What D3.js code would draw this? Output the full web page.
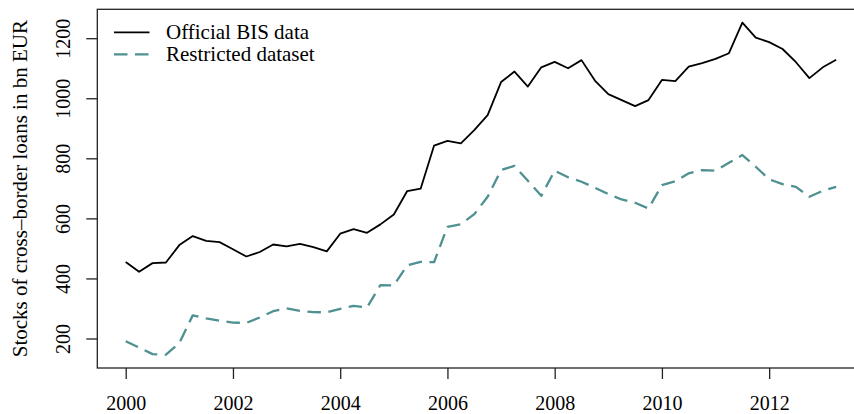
<!DOCTYPE html>
<html>
<head>
<meta charset="utf-8">
<script src="https://cdn.jsdelivr.net/npm/d3@7"></script>
<style>
  html, body { margin: 0; padding: 0; background: #fff; overflow: hidden; }
  svg { display: block; }
  text { font-family: "Liberation Serif", "Times New Roman", serif; fill: #000; }
</style>
</head>
<body>
<svg id="chart"></svg>
<script>
// quarterly observations, 2000Q1 .. 2013Q2
const quarters = [
  '2000Q1','2000Q2','2000Q3','2000Q4','2001Q1','2001Q2','2001Q3','2001Q4',
  '2002Q1','2002Q2','2002Q3','2002Q4','2003Q1','2003Q2','2003Q3','2003Q4',
  '2004Q1','2004Q2','2004Q3','2004Q4','2005Q1','2005Q2','2005Q3','2005Q4',
  '2006Q1','2006Q2','2006Q3','2006Q4','2007Q1','2007Q2','2007Q3','2007Q4',
  '2008Q1','2008Q2','2008Q3','2008Q4','2009Q1','2009Q2','2009Q3','2009Q4',
  '2010Q1','2010Q2','2010Q3','2010Q4','2011Q1','2011Q2','2011Q3','2011Q4',
  '2012Q1','2012Q2','2012Q3','2012Q4','2013Q1','2013Q2'
];

const officialBIS = [
  455, 422, 451, 453, 511, 541, 525, 521, 497, 473, 488, 513, 507, 515,
  504, 490, 549, 564, 552, 580, 613, 691, 699, 842, 858, 850, 894, 944,
  1054, 1089, 1039, 1103, 1121, 1100, 1127, 1059, 1014, 994, 974, 994,
  1061, 1057, 1105, 1117, 1131, 1150, 1252, 1202, 1187, 1164, 1120, 1067,
  1103, 1128
];

const restricted = [
  191, 170, 148, 146, 185, 277, 267, 259, 253, 252, 270, 291, 300, 292,
  288, 287, 299, 309, 303, 378, 377, 444, 455, 454, 572, 580, 614, 672,
  761, 775, 725, 675, 759, 737, 722, 702, 681, 663, 652, 633, 711, 724,
  750, 761, 759, 785, 811, 772, 730, 714, 705, 672, 692, 705
];

const xTicks = [2000, 2002, 2004, 2006, 2008, 2010, 2012];
const yTicks = [200, 400, 600, 800, 1000, 1200];
const seriesNames = ['Official BIS data', 'Restricted dataset'];

const width = 854, height = 414;
const teal = '#4f9090';

// quarter label -> decimal year
const toYear = q => +q.slice(0, 4) + (+q.slice(5) - 1) / 4;
const years = quarters.map(toYear);

// R-style 4% padding around data range; right edge falls outside the crop
const xPad = (d3.max(years) - d3.min(years)) * 0.04;
const allVals = officialBIS.concat(restricted);
const yPad = (d3.max(allVals) - d3.min(allVals)) * 0.04;

const plot = { left: 97.3, top: 9.3, bottom: 368, right: 864.6 };

const x = d3.scaleLinear()
  .domain([d3.min(years) - xPad, d3.max(years) + xPad])
  .range([plot.left, plot.right]);

const y = d3.scaleLinear()
  .domain([d3.min(allVals) - yPad, d3.max(allVals) + yPad])
  .range([plot.bottom, plot.top]);

const svg = d3.select('#chart')
  .attr('width', width)
  .attr('height', height)
  .attr('viewBox', `0 0 ${width} ${height}`);

// plot box
svg.append('rect')
  .attr('x', plot.left).attr('y', plot.top)
  .attr('width', plot.right - plot.left)
  .attr('height', plot.bottom - plot.top)
  .attr('fill', 'none')
  .attr('stroke', '#222')
  .attr('stroke-width', 1.3);

// x axis
const xAxis = svg.append('g')
  .attr('transform', `translate(0, ${plot.bottom})`)
  .call(d3.axisBottom(x).tickValues(xTicks).tickFormat(d3.format('d')).tickSize(11).tickPadding(17));
xAxis.select('.domain').remove();
xAxis.selectAll('line').attr('stroke', '#222').attr('stroke-width', 1.3);
xAxis.selectAll('text')
  .attr('font-size', '20px')
  .attr('font-family', '"Liberation Serif", serif')
  .attr('fill', '#000');

// y axis, labels rotated like R's default las=0
const yAxis = svg.append('g')
  .attr('transform', `translate(${plot.left}, 0)`)
  .call(d3.axisLeft(y).tickValues(yTicks).tickSize(11).tickFormat(d3.format('d')));
yAxis.select('.domain').remove();
yAxis.selectAll('line').attr('stroke', '#222').attr('stroke-width', 1.3);
yAxis.selectAll('text')
  .attr('x', null).attr('dy', null)
  .attr('text-anchor', 'middle')
  .attr('transform', 'translate(-27, 0) rotate(-90)')
  .attr('font-size', '20px')
  .attr('font-family', '"Liberation Serif", serif')
  .attr('fill', '#000');

// y axis title
svg.append('text')
  .attr('transform', `translate(27, ${(plot.top + plot.bottom) / 2}) rotate(-90)`)
  .attr('text-anchor', 'middle')
  .attr('font-size', '21px')
  .text('Stocks of cross\u2013border loans in bn EUR');

const line = d3.line()
  .x((d, i) => x(years[i]))
  .y(d => y(d));

svg.append('path')
  .datum(restricted)
  .attr('d', line)
  .attr('fill', 'none')
  .attr('stroke', teal)
  .attr('stroke-width', 2.3)
  .attr('stroke-dasharray', '13.5,7.5')
  .attr('stroke-linejoin', 'round');

svg.append('path')
  .datum(officialBIS)
  .attr('d', line)
  .attr('fill', 'none')
  .attr('stroke', '#000')
  .attr('stroke-width', 1.8)
  .attr('stroke-linejoin', 'round');

// legend (no box)
const legend = svg.append('g');
const legendStyles = [
  { stroke: '#000', width: 1.8, dash: null },
  { stroke: teal, width: 2.3, dash: '13.5,7.5' }
];
seriesNames.forEach((name, i) => {
  const ly = 32.3 + i * 22;
  legend.append('line')
    .attr('x1', 114).attr('x2', 149.5)
    .attr('y1', ly).attr('y2', ly)
    .attr('stroke', legendStyles[i].stroke)
    .attr('stroke-width', legendStyles[i].width)
    .attr('stroke-dasharray', legendStyles[i].dash);
  legend.append('text')
    .attr('x', 166)
    .attr('y', ly + 6.5)
    .attr('font-size', '21px')
    .text(name);
});
</script>
</body>
</html>
